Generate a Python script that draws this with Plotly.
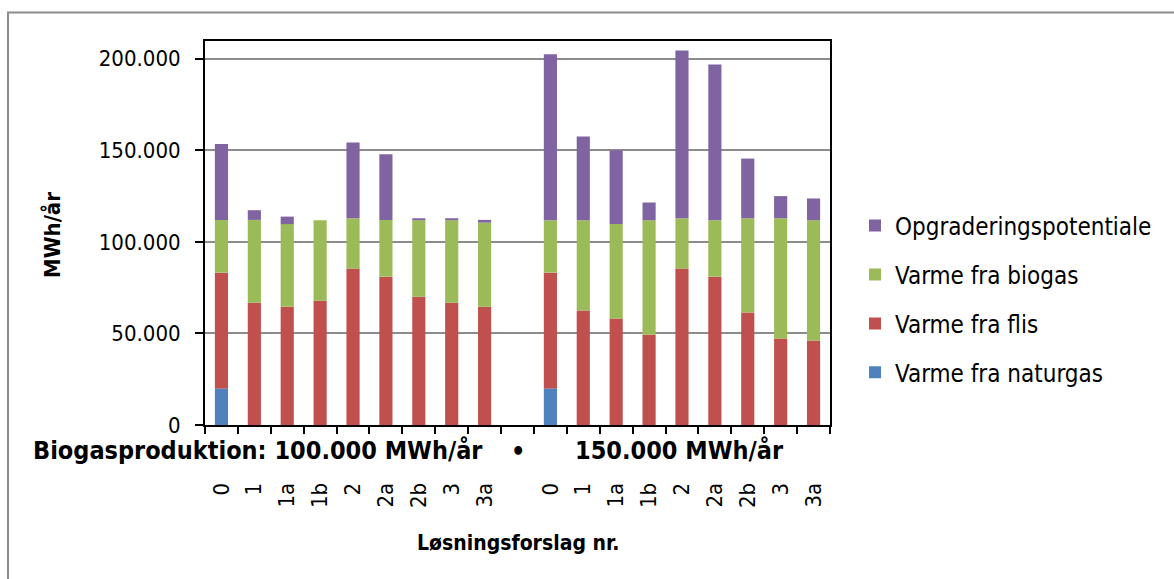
import plotly.graph_objects as go

# ---- data (MWh/år) ----
categories = ["0", "1", "1a", "1b", "2", "2a", "2b", "3", "3a"]
groups = ["100.000 MWh/år", "150.000 MWh/år"]

naturgas_100 = [20000, 0, 0, 0, 0, 0, -1500, 0, 0]
flis_100 = [63200, 66800, 64600, 67900, 85400, 81000, 70100, 66800, 64600]
biogas_100 = [28800, 45200, 45100, 43900, 27500, 31000, 41700, 45000, 45900]
opgrad_100 = [41400, 5300, 4100, 0, 41400, 35900, 1100, 1100, 1500]

naturgas_150 = [20000, 0, 0, 0, 0, 0, -1500, 0, 0]
flis_150 = [63200, 62500, 58100, 49300, 85400, 81000, 61400, 47200, 46100]
biogas_150 = [28600, 49300, 51600, 62500, 27500, 30800, 51500, 65700, 65700]
opgrad_150 = [90600, 45800, 40400, 9700, 91600, 85100, 32600, 12100, 11900]

series_names = ["Varme fra naturgas", "Varme fra flis", "Varme fra biogas", "Opgraderingspotentiale"]
series_colors = ["#4F81BD", "#C0504D", "#9BBB59", "#8064A2"]
y_ticks = [0, 50000, 100000, 150000, 200000]

# ---- build positions: group 1, empty slot, group 2 ----
labels = categories + [""] + categories
xpos = list(range(len(labels)))
real_pos = [p for p, l in zip(xpos, labels) if l != ""]
real_lab = [l for l in labels if l != ""]

series_vals = [
    naturgas_100 + [None] + naturgas_150,
    flis_100 + [None] + flis_150,
    biogas_100 + [None] + biogas_150,
    opgrad_100 + [None] + opgrad_150,
]

FONT = "DejaVu Sans Condensed, DejaVu Sans, sans-serif"

fig = go.Figure()
n = len(series_names)
for i, (name, color, vals) in enumerate(zip(series_names, series_colors, series_vals)):
    fig.add_trace(go.Bar(
        x=xpos, y=vals, name=name, legendgroup=name, legendrank=n - i,
        marker=dict(color=color, line=dict(width=0)),
        cliponaxis=False, hoverinfo="y+name",
    ))

L, R, T, B = 205, 344, 41, 154
W, H = 1174, 579
pw, ph = W - L - R, H - T - B


def px_x(px):
    return (px - L) / pw


def px_y(py):
    return (H - B - py) / ph


fig.update_layout(
    width=W, height=H,
    margin=dict(l=L, r=R, t=T, b=B, pad=0, autoexpand=False),
    barmode="relative", bargap=0.6,
    paper_bgcolor="white", plot_bgcolor="white",
    separators=",.",
    font=dict(family=FONT, size=22, color="black"),
    showlegend=True,
    legend=dict(
        x=px_x(855), xanchor="left", y=px_y(299), yanchor="middle",
        traceorder="grouped", tracegroupgap=14.7,
        font=dict(size=24, family=FONT, color="black"),
        bgcolor="rgba(0,0,0,0)",
    ),
    xaxis=dict(
        range=[-0.5, len(labels) - 0.5],
        tickmode="array", tickvals=real_pos, ticktext=real_lab,
        tickangle=-90, ticks="", ticklabelstandoff=47,
        tickfont=dict(size=22, family=FONT),
        showline=True, linecolor="black", linewidth=2, mirror=True,
        showgrid=False, zeroline=False,
        minor=dict(tickmode="linear", tick0=-0.5, dtick=1, ticks="outside",
                   ticklen=7, tickwidth=2, tickcolor="black", showgrid=False),
    ),
    yaxis=dict(
        range=[0, 209700],
        tickmode="array", tickvals=y_ticks,
        tickformat=",d",
        ticks="outside", ticklen=8, tickwidth=2, tickcolor="black",
        ticklabelstandoff=10,
        showline=True, linecolor="black", linewidth=2, mirror=True,
        showgrid=True, gridcolor="#8c8c8c", gridwidth=2,
        zeroline=False,
    ),
)

fig.add_annotation(
    text="<b>MWh/år</b>", xref="paper", yref="paper",
    x=px_x(53), y=px_y(235), xanchor="center", yanchor="middle",
    textangle=-90, showarrow=False, font=dict(size=22, family=FONT),
)
fig.add_annotation(
    text="<b>Løsningsforslag nr.</b>", xref="paper", yref="paper",
    x=px_x(518), y=px_y(543), xanchor="center", yanchor="middle",
    showarrow=False, font=dict(size=21, family=FONT),
)
fig.add_annotation(
    text="<b>Biogasproduktion: " + groups[0] + "</b>", xref="paper", yref="paper",
    x=px_x(31), y=px_y(450), xanchor="left", yanchor="middle",
    showarrow=False, font=dict(size=25, family=FONT),
)
fig.add_annotation(
    text="<b>•</b>", xref="paper", yref="paper",
    x=px_x(518), y=px_y(451), xanchor="center", yanchor="middle",
    showarrow=False, font=dict(size=25, family=FONT),
)
fig.add_annotation(
    text="<b>" + groups[1] + "</b>", xref="paper", yref="paper",
    x=px_x(573), y=px_y(450), xanchor="left", yanchor="middle",
    showarrow=False, font=dict(size=25, family=FONT),
)

# outer chart border (left and top visible)
fig.add_shape(
    type="rect", xref="paper", yref="paper",
    x0=px_x(8), y0=px_y(12.5), x1=px_x(1190), y1=px_y(600),
    line=dict(color="#8c8c8c", width=2), fillcolor="rgba(0,0,0,0)", layer="below",
)

fig.write_html("out.html", config={"displayModeBar": False},
               post_script="document.body.style.margin='0';")
